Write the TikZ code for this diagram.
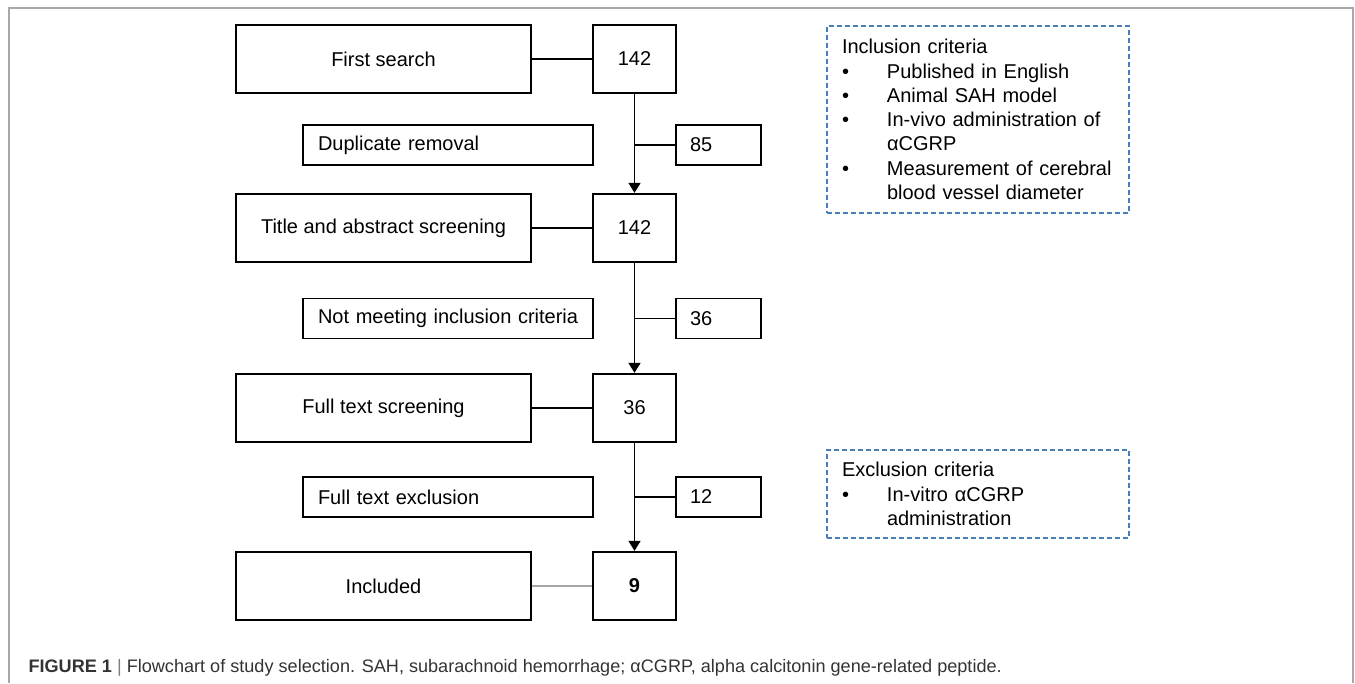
\documentclass[tikz,border=0pt]{standalone}
\usepackage{fontspec}
\setmainfont{Liberation Sans}
\usetikzlibrary{arrows.meta}

\definecolor{critblue}{HTML}{4A7EBB}
\definecolor{framegray}{HTML}{A8A8A8}
\definecolor{captext}{HTML}{333333}
\newcommand{\critem}[1]{\makebox[45pt][l]{\textbullet}#1}
\newcommand{\critmore}[1]{\hspace*{45pt}#1}

\tikzset{
  boxfont/.style={font=\fontsize{20}{24.3}\selectfont},
  bigbox/.style={draw,line width=2.3pt,minimum width=295pt,minimum height=68pt,inner sep=0pt,boxfont},
  numbox/.style={draw,line width=2.3pt,minimum width=83pt,minimum height=68pt,inner sep=0pt,boxfont},
  lblbox/.style={draw,line width=1.2pt,text width=268pt,inner xsep=11pt,inner ysep=0pt,minimum height=40pt,align=left,boxfont},
  cntbox/.style={draw,line width=1.2pt,text width=57pt,inner xsep=14pt,inner ysep=0pt,minimum height=40pt,align=left,boxfont},
  critbox/.style={draw=critblue,line width=1.2pt,dash pattern=on 5pt off 3pt,text width=272pt,inner xsep=15pt,inner ysep=0pt,align=left,boxfont},
  link/.style={line width=1.3pt},
  flow/.style={line width=1.3pt,-{Triangle[width=12pt,length=10pt]}}
}

\begin{document}
\begin{tikzpicture}[x=1pt,y=-1pt]

  \useasboundingbox (0,0) rectangle (1355,683);
  \draw[framegray,line width=1.2pt] (9,683) -- (9,8) -- (1353,8) -- (1353,683);

  \draw (383.5,59) node[bigbox] (fs) {First search};
  \draw (634.5,59) node[numbox] (n1) {142};
  \draw (448,145) node[lblbox] (dr) {\hspace*{4pt}Duplicate removal};
  \draw (718.5,145) node[cntbox] (c1) {85};

  \draw (383.5,228) node[bigbox] (ta) {Title and abstract screening};
  \draw (634.5,228) node[numbox] (n2) {142};
  \draw (448,318.5) node[lblbox] (nm) {\hspace*{4pt}Not meeting inclusion criteria};
  \draw (718.5,318.5) node[cntbox] (c2) {36};

  \draw (383.5,408) node[bigbox] (ft) {Full text screening};
  \draw (634.5,408) node[numbox] (n3) {36};
  \draw (448,497) node[lblbox] (fe) {\hspace*{4pt}Full text exclusion};
  \draw (718.5,497) node[cntbox] (c3) {12};

  \draw (383.5,586) node[bigbox] (in) {Included};
  \draw (634.5,586) node[numbox] (n4) {\textbf{9}};

  \draw[link] (fs) -- (n1);
  \draw[link] (ta) -- (n2);
  \draw[link] (ft) -- (n3);
  \draw[link,gray!70] (in) -- (n4);

  \draw[flow] (n1) -- (n2);
  \draw[flow] (n2) -- (n3);
  \draw[flow] (n3) -- (n4);
  \draw[link] (n1.south |- c1.west) -- (c1.west);
  \draw[link] (n2.south |- c2.west) -- (c2.west);
  \draw[link] (n3.south |- c3.west) -- (c3.west);

  % criteria
  \draw (978,119.5) node[critbox,minimum height=187pt] (inc) {Inclusion criteria\\
    \critem{Published in English}\\
    \critem{Animal SAH model}\\
    \critem{In-vivo administration of}\\
    \critmore{αCGRP}\\
    \critem{Measurement of cerebral}\\
    \critmore{blood vessel diameter}};
  \draw (978,494) node[critbox,minimum height=88pt] (exc) {Exclusion criteria\\
    \critem{In-vitro αCGRP}\\
    \critmore{administration}};

  \draw (25,668) node[anchor=west,text=captext,font=\fontsize{18.1}{20}\selectfont] (cap)
    {\textbf{FIGURE 1} {\color{gray}|} Flowchart of study selection. SAH, subarachnoid hemorrhage; αCGRP, alpha calcitonin gene-related peptide.};

\end{tikzpicture}
\end{document}
